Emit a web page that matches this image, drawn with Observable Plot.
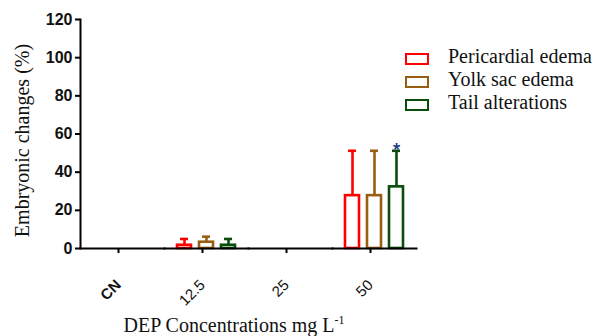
<!DOCTYPE html>
<html><head><meta charset="utf-8">
<script src="https://cdn.jsdelivr.net/npm/d3@7"></script>
<script src="https://cdn.jsdelivr.net/npm/@observablehq/plot@0.6"></script>
<style>
html,body{margin:0;padding:0;background:#fff;}
#wrap{position:relative;width:594px;height:336px;overflow:hidden;}
#wrap svg{position:absolute;left:0;top:0;}
.lg-sw{position:absolute;left:405px;width:24px;height:12px;box-sizing:border-box;border:2.6px solid;background:#fff;}
.lg-tx{position:absolute;left:448px;font-family:'Liberation Serif','Times New Roman',serif;font-size:20px;line-height:20px;color:#111;white-space:nowrap;}
</style>
</head><body>
<div id="wrap"></div>
<script>
const concentrations = ["CN", "12.5", "25", "50"];
const series = ["Pericardial edema", "Yolk sac edema", "Tail alterations"];
const colors = ["#ff0000", "#985f12", "#0a4c0a"];
const pericardialMean = [0, 1.7, 0, 27.7];
const pericardialSD = [0, 3.3, 0, 23.5];
const yolkMean = [0, 3.3, 0, 27.7];
const yolkSD = [0, 2.9, 0, 23.5];
const tailMean = [0, 1.7, 0, 32.3];
const tailSD = [0, 3.3, 0, 18.9];
const tailSignif = ["", "", "", "*"];
const yTicks = [0, 20, 40, 60, 80, 100, 120];
const xTitle = "DEP Concentrations mg L";
const xTitleSup = "-1";
const yTitle = "Embryonic changes (%)";

const means = [pericardialMean, yolkMean, tailMean];
const sds = [pericardialSD, yolkSD, tailSD];
const signif = [["", "", "", ""], ["", "", "", ""], tailSignif];
const data = series.flatMap((s, i) => concentrations.map((c, j) => ({
  conc: c, series: s, mean: means[i][j], sd: sds[i][j], sig: signif[i][j]
})));
const shown = data.filter(d => d.mean > 0);
const sigData = data.filter(d => d.sig);
const serifFont = "'Liberation Serif', 'Times New Roman', serif";
const sansFont = "'Liberation Sans', Arial, sans-serif";

const chart = Plot.plot({
  width: 594, height: 336,
  marginLeft: 80, marginRight: 178, marginTop: 19, marginBottom: 88,
  style: {background: "#fff", color: "#111"},
  fx: {domain: concentrations, padding: 0, label: null},
  x: {domain: series, paddingInner: 0.342, paddingOuter: 0.538, axis: null},
  y: {domain: [0, 120], label: null},
  color: {domain: series, range: colors},
  marks: [
    Plot.ruleX(data, {fx: "conc", x: "series", y1: "mean", y2: d => d.mean + d.sd, stroke: "series", strokeWidth: 2.6}),
    Plot.tickY(shown, {fx: "conc", x: "series", y: d => d.mean + d.sd, stroke: "series", strokeWidth: 2.6, insetLeft: 3, insetRight: 3}),
    Plot.barY(shown, {fx: "conc", x: "series", y: "mean", fill: "#fff", stroke: "series", strokeWidth: 2.6}),
    Plot.text(sigData, {fx: "conc", x: "series", y: d => d.mean + d.sd, text: "sig", lineAnchor: "bottom", fontSize: 14, fontWeight: "bold", fill: "#1a3a8a", dy: 3}),
    Plot.frame({anchor: "bottom", stroke: "#000", strokeWidth: 2}),
    Plot.frame({anchor: "left", facetAnchor: "left", stroke: "#000", strokeWidth: 2}),
    Plot.axisY({ticks: yTicks, tickSize: 5, tickPadding: 3, fontSize: 16, fontWeight: "bold", fontFamily: sansFont, stroke: "#000", strokeWidth: 2, label: null}),
    Plot.axisFx({anchor: "bottom", tickRotate: -45, tickSize: 5, tickPadding: 29, dx: -4, fontSize: 15, fontFamily: sansFont, stroke: "#000", strokeWidth: 2, label: null})
  ]
});

const wrap = document.getElementById("wrap");
wrap.appendChild(chart);
const svg = d3.select(chart);
svg.selectAll("text").filter(function() { return this.textContent === "CN"; }).style("font-weight", "bold");

svg.append("text")
  .attr("transform", "translate(29,140.5) rotate(-90)")
  .style("text-anchor", "middle")
  .style("font-family", serifFont)
  .style("font-size", "20px").style("fill", "#111")
  .text(yTitle);

const xt = svg.append("text")
  .attr("x", 234).attr("y", 332)
  .style("text-anchor", "middle")
  .style("font-family", serifFont)
  .style("font-size", "20px").style("fill", "#111");
xt.append("tspan").text(xTitle);
xt.append("tspan").style("font-size", "12px").attr("dy", -8).text(xTitleSup);

series.forEach((s, i) => {
  const sw = document.createElement("div");
  sw.className = "lg-sw";
  sw.style.top = (52.5 + i * 23) + "px";
  sw.style.borderColor = colors[i];
  wrap.appendChild(sw);
  const tx = document.createElement("div");
  tx.className = "lg-tx";
  tx.style.top = (46 + i * 23) + "px";
  tx.textContent = s;
  wrap.appendChild(tx);
});
</script>
</body></html>
